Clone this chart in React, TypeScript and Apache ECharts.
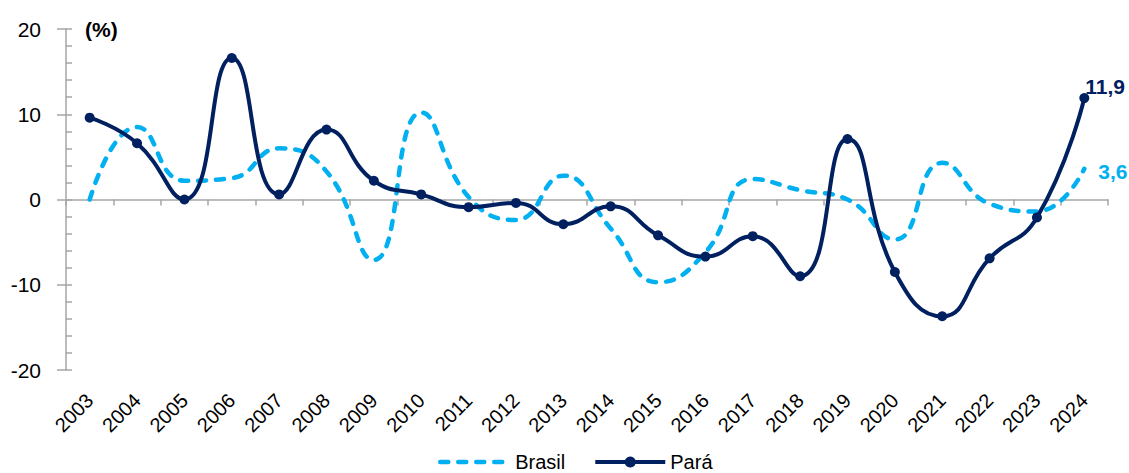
import React, { useEffect, useRef } from "react";
import * as echarts from "echarts";

const years = ["2003","2004","2005","2006","2007","2008","2009","2010","2011","2012","2013","2014","2015","2016","2017","2018","2019","2020","2021","2022","2023","2024"];
const brasil = [0.0, 8.5, 2.2, 2.5, 6.0, 3.3, -7.1, 10.2, 0.3, -2.4, 2.8, -3.4, -9.7, -6.2, 2.4, 1.1, 0.0, -4.7, 4.3, -0.5, -1.4, 3.6];
const para = [9.6, 6.6, 0.0, 16.6, 0.6, 8.2, 2.2, 0.6, -0.9, -0.4, -2.9, -0.8, -4.2, -6.7, -4.3, -9.0, 7.1, -8.5, -13.7, -6.9, -2.1, 11.9];
const yTicks = { min: -20, max: 20, interval: 10 };

const NAVY = "#002060";
const LIGHT = "#00B0F0";
const AXIS = "#a6a6a6";
const FONT = "'Liberation Sans', Arial, sans-serif";

const fmt = (v: number) => v.toFixed(1).replace(".", ",");

export default function App() {
  const ref = useRef<HTMLDivElement>(null);
  useEffect(() => {
    if (!ref.current) return;
    const chart = echarts.init(ref.current, null, { renderer: "svg" });
    chart.setOption({
      animation: false,
      backgroundColor: "#ffffff",
      textStyle: { fontFamily: FONT },
      grid: { left: 66, right: 21, top: 29, bottom: 103, containLabel: false, outerBoundsMode: "none" },
      legend: {
        left: 433,
        top: 447,
        itemWidth: 70,
        itemHeight: 14,
        itemGap: 28,
        textStyle: { fontSize: 20, color: "#000", fontFamily: FONT, lineHeight: 20 },
        data: [
          { name: "Brasil", itemStyle: { opacity: 0 }, lineStyle: { width: 4.5, type: [8, 10], cap: "round", color: LIGHT } },
          { name: "Pará", lineStyle: { width: 4, color: NAVY } },
        ],
      },
      graphic: [
        {
          type: "text",
          left: 85,
          top: 19,
          style: { text: "(%)", font: `bold 21px ${FONT}`, fill: "#000" },
        },
      ],
      xAxis: [
        {
          type: "category",
          data: years,
          boundaryGap: true,
          axisLine: { show: true, onZero: true, lineStyle: { color: AXIS, width: 1.5 } },
          axisTick: { show: true, length: 6, alignWithLabel: false, lineStyle: { color: AXIS, width: 1.5 } },
          axisLabel: { show: false },
          splitLine: { show: false },
        },
        {
          type: "category",
          data: years,
          position: "bottom",
          boundaryGap: true,
          axisLine: { show: false, onZero: false },
          axisTick: { show: false },
          axisLabel: { show: true, rotate: 45, fontSize: 20, color: "#000", fontFamily: FONT, margin: 27, interval: 0 },
          splitLine: { show: false },
        },
      ],
      yAxis: [
        {
          type: "value",
          min: yTicks.min,
          max: yTicks.max,
          interval: yTicks.interval,
          axisLine: { show: true, lineStyle: { color: AXIS, width: 1.5 } },
          axisTick: { show: true, length: 9, lineStyle: { color: AXIS, width: 1.5 } },
          axisLabel: { fontSize: 21, color: "#000", fontFamily: FONT, margin: 25 },
          splitLine: { show: false },
        },
        {
          type: "value",
          position: "left",
          min: yTicks.min,
          max: yTicks.max,
          interval: yTicks.interval,
          axisLine: { show: false },
          axisTick: { show: true, inside: true, length: 6, lineStyle: { color: AXIS, width: 1.5 } },
          minorTick: { show: true, splitNumber: 5, length: 6, lineStyle: { color: AXIS, width: 1.5 } },
          axisLabel: { show: false },
          splitLine: { show: false },
        },
      ],
      series: [
        {
          name: "Brasil",
          type: "line",
          data: brasil,
          xAxisIndex: 0,
          yAxisIndex: 0,
          smooth: 0.5,
          symbol: "none",
          lineStyle: { color: LIGHT, width: 4.5, type: [8, 10], cap: "round" },
          itemStyle: { color: LIGHT },
          endLabel: {
            show: true,
            formatter: (p: any) => fmt(p.value),
            color: LIGHT,
            fontWeight: "bold",
            fontSize: 21,
            fontFamily: FONT,
            offset: [6, 3],
          },
          z: 2,
        },
        {
          name: "Pará",
          type: "line",
          data: para,
          xAxisIndex: 0,
          yAxisIndex: 0,
          smooth: 0.5,
          symbol: "circle",
          symbolSize: 10,
          lineStyle: { color: NAVY, width: 4 },
          itemStyle: { color: NAVY },
          endLabel: {
            show: true,
            formatter: (p: any) => fmt(p.value),
            color: NAVY,
            fontWeight: "bold",
            fontSize: 21,
            fontFamily: FONT,
            offset: [-7, -12],
          },
          z: 3,
        },
      ],
    });
    return () => chart.dispose();
  }, []);
  return (
    <div
      ref={ref}
      style={{ position: "absolute", left: 0, top: 0, width: 1129, height: 473, background: "#fff" }}
    />
  );
}
